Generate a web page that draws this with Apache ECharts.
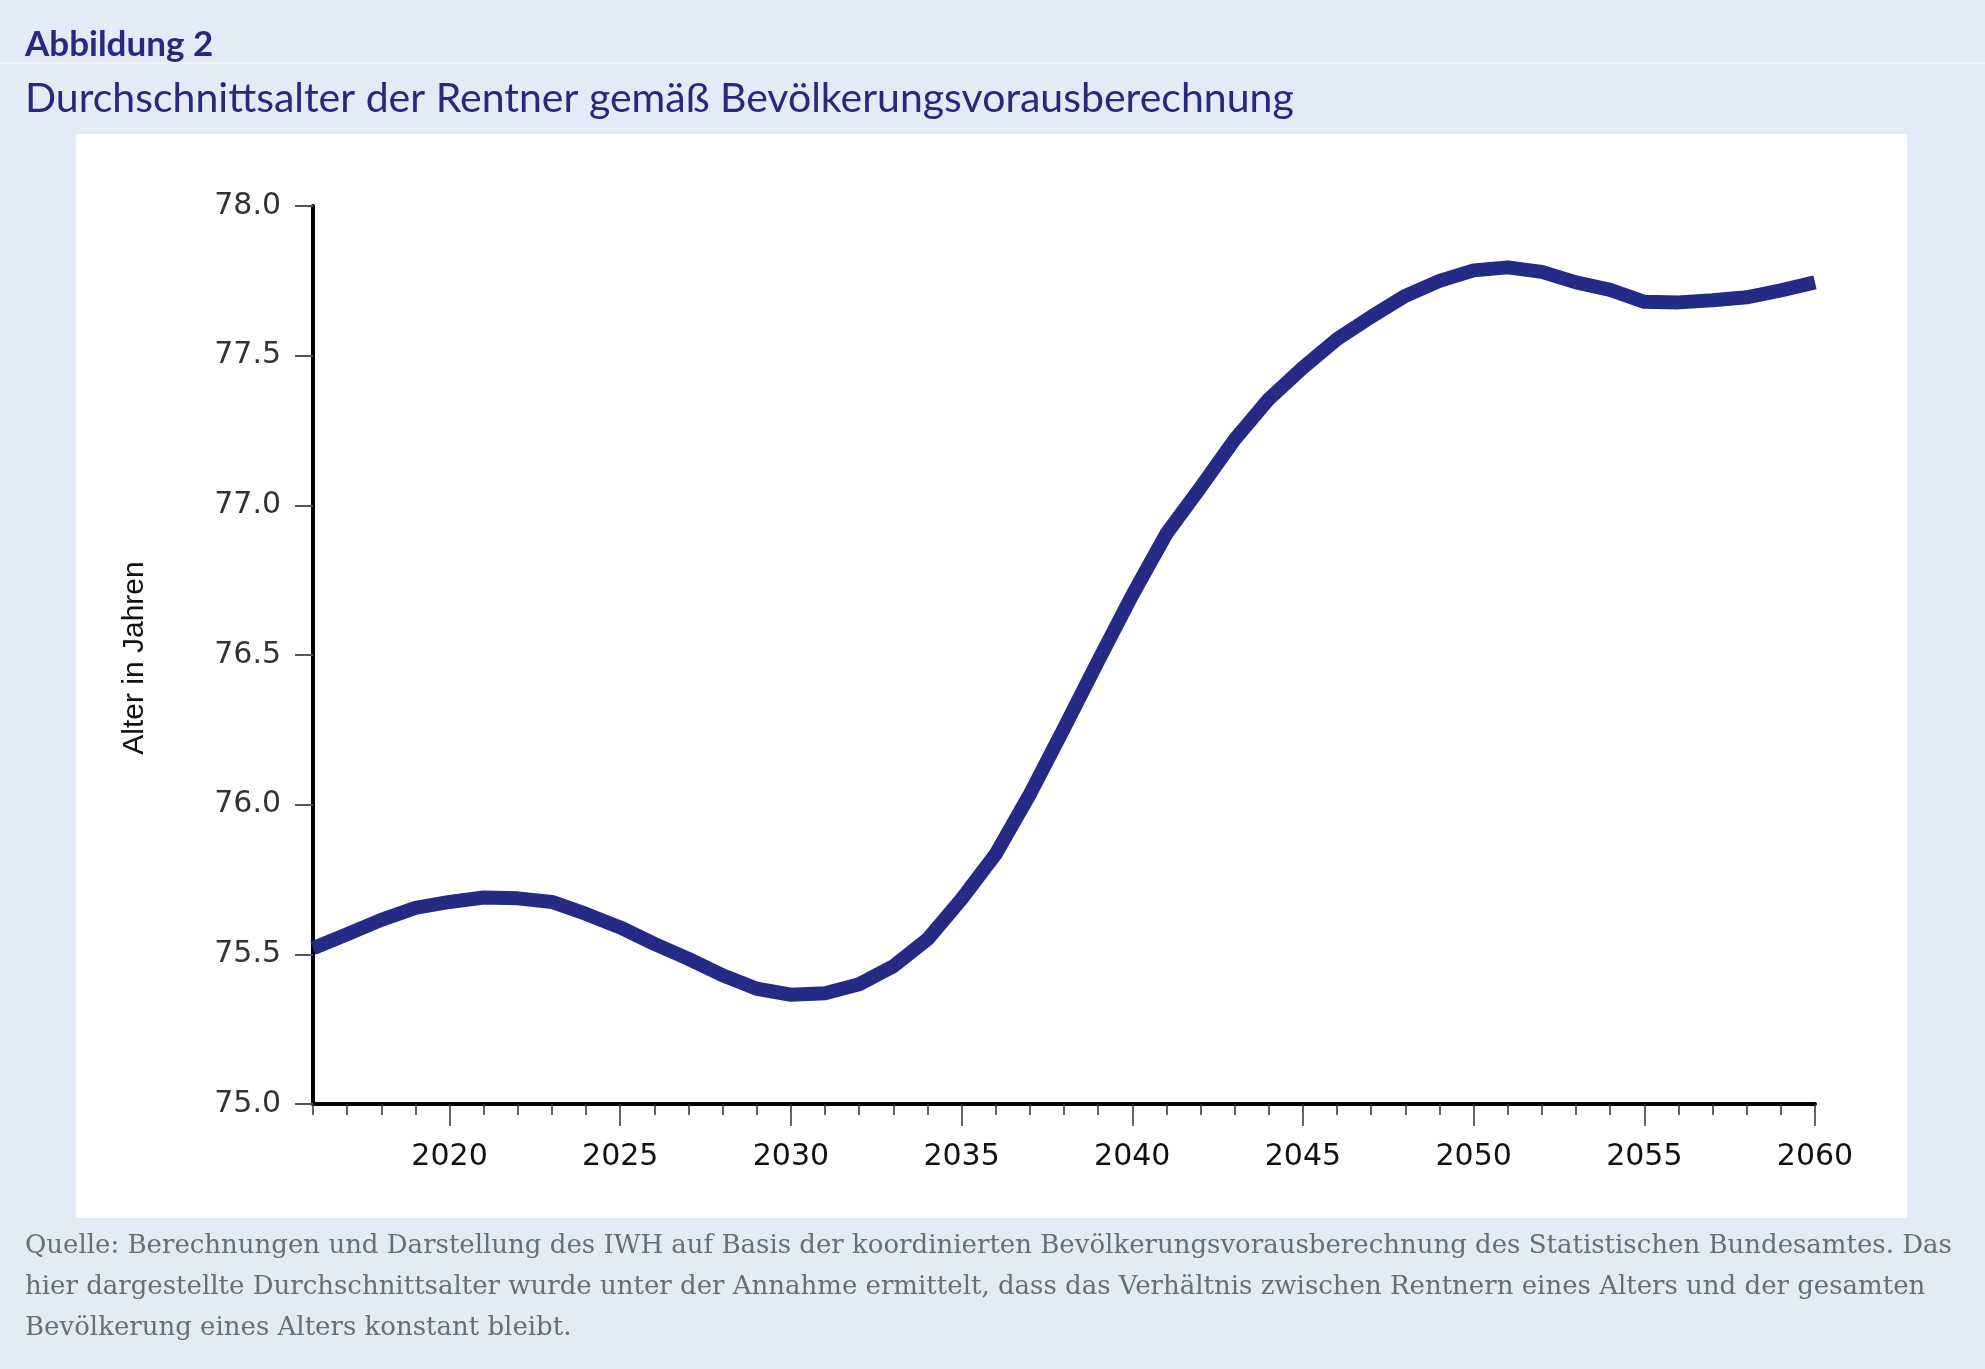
<!DOCTYPE html>
<html>
<head>
<meta charset="utf-8">
<script src="https://cdn.jsdelivr.net/npm/echarts@6/dist/echarts.min.js"></script>
<style>
html,body{margin:0;padding:0;background:#e3ebf7;}
#c{width:1985px;height:1369px;}
</style>
</head>
<body>
<div id="c"></div>
<script>
const years = [2016,2017,2018,2019,2020,2021,2022,2023,2024,2025,2026,2027,2028,2029,2030,2031,2032,2033,2034,2035,2036,2037,2038,2039,2040,2041,2042,2043,2044,2045,2046,2047,2048,2049,2050,2051,2052,2053,2054,2055,2056,2057,2058,2059,2060];
const avgAge = [75.52,75.567,75.615,75.655,75.675,75.69,75.687,75.675,75.635,75.59,75.535,75.485,75.43,75.385,75.365,75.37,75.40,75.46,75.55,75.685,75.835,76.035,76.255,76.48,76.70,76.905,77.06,77.22,77.355,77.46,77.555,77.63,77.70,77.75,77.785,77.795,77.78,77.745,77.72,77.68,77.678,77.685,77.695,77.718,77.745];
const majorYears = [2020,2025,2030,2035,2040,2045,2050,2055,2060];
const heading = "Abbildung 2";
const title = "Durchschnittsalter der Rentner gemäß Bevölkerungsvorausberechnung";
const yName = "Alter in Jahren";
const sourceLines = [
  "Quelle: Berechnungen und Darstellung des IWH auf Basis der koordinierten Bevölkerungsvorausberechnung des Statistischen Bundesamtes. Das",
  "hier dargestellte Durchschnittsalter wurde unter der Annahme ermittelt, dass das Verhältnis zwischen Rentnern eines Alters und der gesamten",
  "Bevölkerung eines Alters konstant bleibt."
];

const chart = echarts.init(document.getElementById('c'), null, {renderer:'canvas'});
const navy = '#252a85';
const srcFont = '26px "DejaVu Serif"';
const option = {
  backgroundColor: '#e3ebf7',
  animation: false,
  grid: {left: 313, right: 170, top: 206, bottom: 265, containLabel: false},
  graphic: [
    {type:'rect', z:-10, shape:{x:0,y:62,width:1985,height:2}, style:{fill:'#eef3fb'}},
    {type:'rect', z:-10, shape:{x:76,y:134,width:1831,height:1084}, style:{fill:'#ffffff'}},
    {type:'text', left:25, top:27, style:{text:heading, font:'bold 35px Lato', fill:'#262a7c'}},
    {type:'text', left:25, top:78, style:{text:title, font:'41px Lato', fill:'#262a7c'}},
    {type:'text', x:135, y:658, rotation:Math.PI/2, style:{text:yName, font:'30px "Liberation Sans"', fill:'#111', align:'center', verticalAlign:'middle'}},
    {type:'text', left:25, top:1233, style:{text:sourceLines[0], font:srcFont, fill:'#6a6c78'}},
    {type:'text', left:25, top:1274, style:{text:sourceLines[1], font:srcFont, fill:'#6a6c78'}},
    {type:'text', left:25, top:1315, style:{text:sourceLines[2], font:srcFont, fill:'#6a6c78'}}
  ],
  xAxis: [
    {
      type:'value', min:2016, max:2060, position:'bottom',
      axisLine:{show:true, onZero:false, lineStyle:{color:'#000', width:4}},
      axisTick:{show:true, customValues:majorYears, length:22, lineStyle:{color:'#333', width:1.5}},
      axisLabel:{show:true, customValues:majorYears, margin:38, fontFamily:'DejaVu Sans', fontSize:30, color:'#111', formatter:v=>String(v)},
      splitLine:{show:false}
    },
    {
      type:'value', min:2016, max:2060, position:'bottom', offset:0,
      axisLine:{show:false, onZero:false},
      axisTick:{show:true, customValues:years, length:11, lineStyle:{color:'#333', width:1.5}},
      axisLabel:{show:false},
      splitLine:{show:false}
    }
  ],
  yAxis: {
    type:'value', min:75, max:78, interval:0.5,
    axisLine:{show:true, onZero:false, lineStyle:{color:'#000', width:4}},
    axisTick:{show:true, length:18, lineStyle:{color:'#555', width:2}},
    axisLabel:{margin:32, fontFamily:'DejaVu Sans', fontSize:30, color:'#333', formatter:v=>v.toFixed(1)},
    splitLine:{show:false}
  },
  series: [{
    type:'line', xAxisIndex:0,
    data: years.map((y,i)=>[y, avgAge[i]]),
    showSymbol:false, symbol:'none',
    lineStyle:{color:navy, width:14, join:'round'},
    z:3
  }]
};
chart.setOption(option);
</script>
</body>
</html>
